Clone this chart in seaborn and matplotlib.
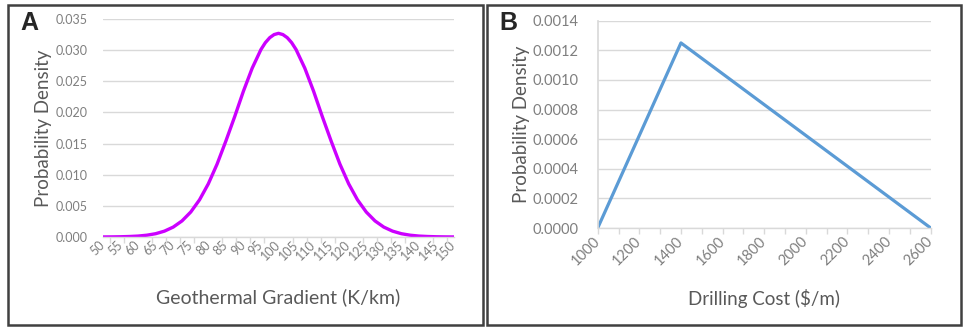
import numpy as np
import pandas as pd
import matplotlib
matplotlib.use("Agg")
import matplotlib.pyplot as plt
import seaborn as sns
from matplotlib.patches import Rectangle
from matplotlib.ticker import MultipleLocator, FormatStrFormatter

# Panel A: geothermal gradient (K/km) vs probability density
grad_x = [50, 52.5, 55, 57.5, 60, 62.5, 65, 67.5, 70, 72.5, 75, 77.5, 80, 82.5, 85, 87.5,
          90, 92.5, 95, 96.25, 97.5, 98.75, 100, 101.25, 102.5, 103.75, 105, 107.5, 110,
          112.5, 115, 117.5, 120, 122.5, 125, 127.5, 130, 132.5, 135, 137.5, 140, 142.5,
          145, 147.5, 150]
grad_pdf = [0.00001, 0.00002, 0.00004, 0.00008, 0.00015, 0.00029, 0.00053, 0.00094, 0.00159,
            0.00258, 0.00401, 0.00597, 0.00853, 0.0117, 0.0154, 0.0193, 0.0234, 0.0271,
            0.0301, 0.0312, 0.0320, 0.0325, 0.0327, 0.0325, 0.0320, 0.0312, 0.0301, 0.0271,
            0.0234, 0.0193, 0.0154, 0.0117, 0.00853, 0.00597, 0.00401, 0.00258, 0.00159,
            0.00094, 0.00053, 0.00029, 0.00015, 0.00008, 0.00004, 0.00002, 0.00001]

# Panel B: drilling cost ($/m), triangular density
cost_x = [1000, 1400, 2600]
cost_pdf = [0.0, 0.00125, 0.0]

sns.set_theme(style="whitegrid")
plt.rcParams["font.family"] = ["Lato", "DejaVu Sans"]

TICK_COL = "#7f7f7f"
LABEL_COL = "#595959"
GRID_COL = "#d9d9d9"

fig = plt.figure(figsize=(9.65, 3.3), dpi=100)

# panel frames
for x0, x1 in [(8, 483), (487, 961)]:
    fig.patches.append(Rectangle((x0 / 965, 5 / 330), (x1 - x0) / 965, 320 / 330,
                                 transform=fig.transFigure, fill=False,
                                 edgecolor="#404040", linewidth=1.8))

ax1 = fig.add_axes([103 / 965, 93 / 330, 351 / 965, 218 / 330])
ax2 = fig.add_axes([597.7 / 965, 102 / 330, 333 / 965, 207.3 / 330])

df_a = pd.DataFrame({"x": grad_x, "y": grad_pdf})
df_b = pd.DataFrame({"x": cost_x, "y": cost_pdf})

sns.lineplot(data=df_a, x="x", y="y", ax=ax1, color="#cc00ff", linewidth=2.4)
sns.lineplot(data=df_b, x="x", y="y", ax=ax2, color="#5b9bd5", linewidth=2.3)

ax1.set_xlim(50, 150)
ax1.set_ylim(0, 0.035)
ax1.xaxis.set_major_locator(MultipleLocator(5))
ax1.xaxis.set_minor_locator(MultipleLocator(4))
ax1.yaxis.set_major_locator(MultipleLocator(0.005))
ax1.yaxis.set_major_formatter(FormatStrFormatter("%.3f"))

ax2.set_xlim(1000, 2600)
ax2.set_ylim(0, 0.0014)
ax2.xaxis.set_major_locator(MultipleLocator(200))
ax2.xaxis.set_minor_locator(MultipleLocator(100))
ax2.yaxis.set_major_locator(MultipleLocator(0.0002))
ax2.yaxis.set_major_formatter(FormatStrFormatter("%.4f"))

for ax, tsize, ypad in [(ax1, 9, 11), (ax2, 10.5, 14)]:
    ax.set_facecolor("white")
    ax.grid(axis="y", color=GRID_COL, linewidth=1)
    ax.grid(axis="x", visible=False)
    for s in ["top", "right", "left"]:
        ax.spines[s].set_visible(False)
    ax.spines["bottom"].set_color(GRID_COL)
    ax.spines["bottom"].set_linewidth(1)
    ax.tick_params(axis="y", length=0, labelsize=tsize, labelcolor=TICK_COL, pad=ypad)
    ax.tick_params(axis="x", which="major", length=0, labelsize=tsize,
                   labelcolor=TICK_COL, pad=4)
    ax.tick_params(axis="x", which="minor", bottom=True, length=4, width=1, color=GRID_COL)
    for lab in ax.get_xticklabels():
        lab.set_rotation(45)
        lab.set_ha("right")
        lab.set_va("center")
        lab.set_rotation_mode("anchor")
    ax.set_ylabel("Probability Density", fontsize=13.5, color=LABEL_COL)

ax2.spines["left"].set_visible(True)
ax2.spines["left"].set_color(GRID_COL)
ax2.tick_params(axis="x", which="major", length=4, width=1, color=GRID_COL, bottom=True)

ax1.set_xlabel("Geothermal Gradient (K/km)", fontsize=14, color=LABEL_COL)
ax2.set_xlabel("Drilling Cost ($/m)", fontsize=13.5, color=LABEL_COL)
ax1.xaxis.set_label_coords(0.5, -0.235)
ax2.xaxis.set_label_coords(0.5, -0.292)
ax1.yaxis.set_label_coords(-0.145, 0.5)
ax2.yaxis.set_label_coords(-0.203, 0.5)

fig.text(29 / 965, 1 - 23.5 / 330, "A", fontsize=18, fontweight="bold",
         family=["Liberation Sans", "DejaVu Sans"], ha="center", va="center")
fig.text(508 / 965, 1 - 23.5 / 330, "B", fontsize=18, fontweight="bold",
         family=["Liberation Sans", "DejaVu Sans"], ha="center", va="center")

fig.savefig("out.png", dpi=100, facecolor="white")
